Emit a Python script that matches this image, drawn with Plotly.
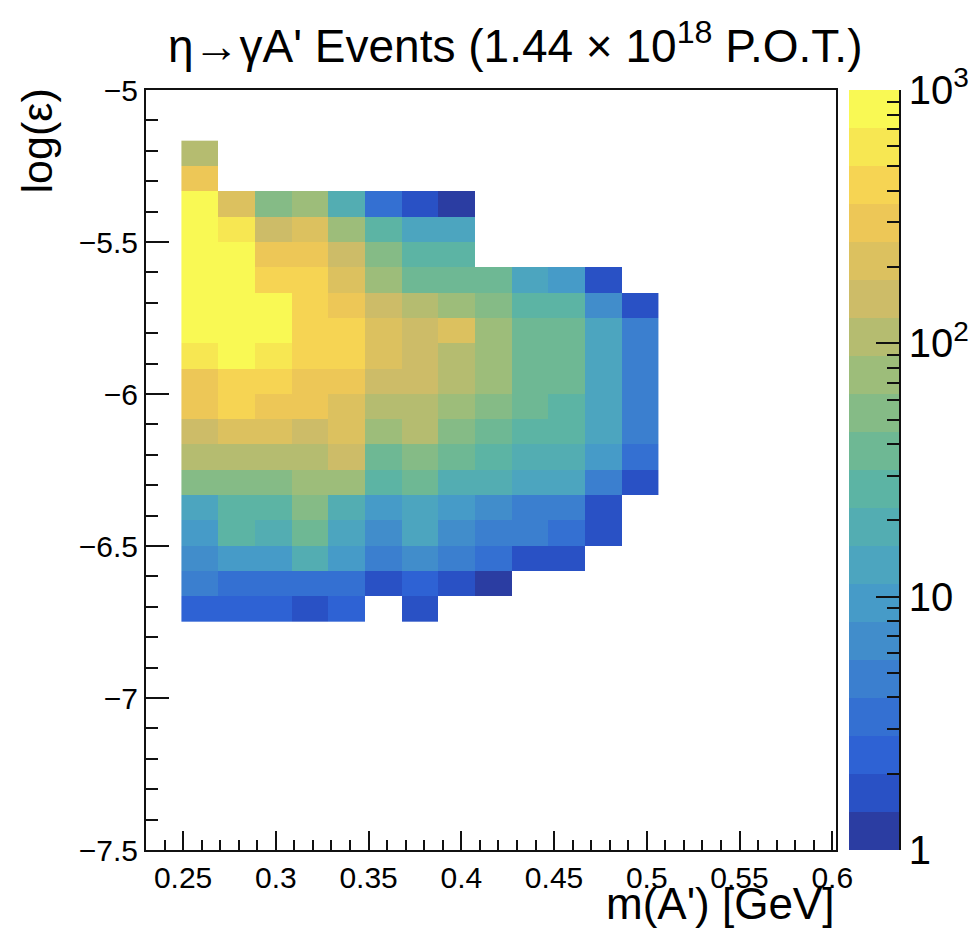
import numpy as np
import plotly.graph_objects as go

# ---------------- data ----------------
# mass bin edges [GeV] (13 bins)
mass_edges = [0.2491, 0.2689, 0.2887, 0.3084, 0.3282, 0.3480, 0.3677, 0.3875,
              0.4073, 0.4270, 0.4468, 0.4666, 0.4863, 0.5061]
# log(epsilon) bin edges (19 bins)
logeps_edges = [-6.75, -6.6667, -6.5833, -6.5, -6.4167, -6.3333, -6.25, -6.1667,
                -6.0833, -6.0, -5.9167, -5.8333, -5.75, -5.6667, -5.5833, -5.5,
                -5.4167, -5.3333, -5.25, -5.1667]

N = None
# events per bin, rows from bottom (log eps = -6.75) to top
events = [
    [2.3, 2.5, 2.2, 1.6, 2.4, N, 1.7, N, N, N, N, N, N],
    [4.6, 3.3, 3.5, 3.2, 3.4, 1.6, 2.5, 1.7, 1.2, N, N, N, N],
    [6.9, 9.1, 8.8, 18, 9.3, 4.9, 6.6, 4.7, 3.6, 1.8, 1.7, N, N],
    [9.4, 27, 19, 37, 13, 6.8, 12.5, 6.5, 4.8, 4.5, 3.5, 1.7, N],
    [13.5, 28, 26, 52, 19, 9.8, 13, 9.2, 7.0, 4.6, 4.4, 1.8, N],
    [54, 55, 50, 72, 78, 28, 39, 21, 20, 14, 13, 4.9, 1.7],
    [104, 108, 101, 110, 160, 37, 56, 40, 29, 20, 18, 9.6, 3.3],
    [145, 205, 215, 152, 220, 77, 112, 54, 41, 27, 26, 13, 4.6],
    [290, 410, 310, 295, 230, 103, 99, 74, 52, 36, 29, 12.5, 4.8],
    [305, 430, 415, 320, 285, 165, 140, 105, 76, 40, 38, 14, 5.1],
    [610, 870, 640, 440, 400, 215, 155, 112, 72, 39, 37, 13.5, 4.7],
    [950, 980, 820, 470, 430, 200, 170, 195, 80, 42, 40, 12, 4.3],
    [990, 960, 760, 390, 330, 148, 118, 84, 58, 30, 28, 6.4, 1.6],
    [970, 900, 370, 380, 190, 70, 43, 41, 35, 12, 10, 1.8, N],
    [930, 780, 270, 260, 135, 48, 30, 31, N, N, N, N, N],
    [890, 560, 138, 185, 66, 25, 14.5, 15, N, N, N, N, N],
    [740, 182, 47, 65, 17, 3.0, 1.9, 1.3, N, N, N, N, N],
    [265, N, N, N, N, N, N, N, N, N, N, N, N],
    [96, N, N, N, N, N, N, N, N, N, N, N, N],
]

x_tickvals = [0.25, 0.3, 0.35, 0.4, 0.45, 0.5, 0.55, 0.6]
x_ticktext = ["0.25", "0.3", "0.35", "0.4", "0.45", "0.5", "0.55", "0.6"]
y_tickvals = [-7.5, -7.0, -6.5, -6.0, -5.5, -5.0]
y_ticktext = ["\u22127.5", "\u22127", "\u22126.5", "\u22126", "\u22125.5", "\u22125"]
z_tickvals = [1, 10, 100, 1000]
z_ticktext = ["1", "10", "10<sup>2</sup>", "10<sup>3</sup>"]
z_minor = [2, 3, 4, 5, 6, 7, 8, 9, 20, 30, 40, 50, 60, 70, 80, 90,
           200, 300, 400, 500, 600, 700, 800, 900]

# ---------------- palette (ROOT kBird, 20 contours) ----------------
stops = [0.0, 0.125, 0.25, 0.375, 0.5, 0.625, 0.75, 0.875, 1.0]
red = [0.2082, 0.0592, 0.0780, 0.0232, 0.1802, 0.5301, 0.8186, 0.9956, 0.9764]
green = [0.1664, 0.3599, 0.5041, 0.6419, 0.7178, 0.7492, 0.7328, 0.7862, 0.9832]
blue = [0.5293, 0.8684, 0.8385, 0.7914, 0.6425, 0.4662, 0.3499, 0.1968, 0.0539]
ncol = 255
pal = []
for g in range(1, len(stops)):
    n = int(np.floor(ncol * stops[g]) - np.floor(ncol * stops[g - 1]))
    for c in range(n):
        pal.append([red[g - 1] + c * (red[g] - red[g - 1]) / n,
                    green[g - 1] + c * (green[g] - green[g - 1]) / n,
                    blue[g - 1] + c * (blue[g] - blue[g - 1]) / n])
pal = np.array(pal)

# reference screenshot is in Display-P3 tone; convert sRGB -> P3 look
def to_p3(rgb):
    rgb = np.asarray(rgb)
    lin = np.where(rgb <= 0.04045, rgb / 12.92, ((rgb + 0.055) / 1.055) ** 2.4)
    M = np.array([[0.8225, 0.1774, 0.0000],
                  [0.0332, 0.9669, 0.0000],
                  [0.0171, 0.0724, 0.9108]])
    l2 = M @ lin
    enc = np.where(l2 <= 0.0031308, 12.92 * l2, 1.055 * np.power(np.clip(l2, 0, None), 1 / 2.4) - 0.055)
    return np.clip(enc, 0, 1)

ndiv = 20
band_cols = []
for i in range(ndiv):
    k = int((i + 0.99) * ncol / ndiv)
    k = min(k, len(pal) - 1)
    r, g_, b = to_p3(pal[k]) * 255
    band_cols.append(f"rgb({int(round(r))},{int(round(g_))},{int(round(b))})")

colorscale = []
for i, c in enumerate(band_cols):
    colorscale.append([i / ndiv, c])
    colorscale.append([(i + 1) / ndiv, c])

zmin_log, zmax_log = 0.0, 3.0
zlog = np.array([[np.nan if v is None else np.log10(v) for v in row] for row in events])

FONT = "Liberation Sans, Arial, Helvetica, sans-serif"

fig = go.Figure()
fig.add_trace(go.Heatmap(
    x=mass_edges, y=logeps_edges, z=zlog,
    colorscale=colorscale, zmin=zmin_log, zmax=zmax_log,
    showscale=False, zsmooth=False, hoverongaps=False,
    xaxis="x", yaxis="y",
))

# colour bar drawn as its own heatmap on a log axis
levels = [10 ** (zmin_log + (zmax_log - zmin_log) * i / ndiv) for i in range(ndiv + 1)]
bar_z = [[zmin_log + (zmax_log - zmin_log) * (i + 0.5) / ndiv] for i in range(ndiv)]
fig.add_trace(go.Heatmap(
    x=[0, 1], y=levels, z=bar_z,
    colorscale=colorscale, zmin=zmin_log, zmax=zmax_log,
    showscale=False, zsmooth=False, hoverinfo="skip",
    xaxis="x2", yaxis="y2",
))

axis_common = dict(
    showline=True, linecolor="#111", linewidth=2, mirror=True,
    ticks="inside", tickcolor="#111", tickwidth=1.5,
    showgrid=False, zeroline=False, automargin=False,
    tickfont=dict(family=FONT, size=30, color="black"),
)

fig.update_layout(
    width=979, height=934,
    margin=dict(l=146, r=80, t=90, b=84),
    paper_bgcolor="white", plot_bgcolor="white",
    showlegend=False,
    xaxis=dict(domain=[0, 0.9163], range=[0.23, 0.602],
               tickmode="array", tickvals=x_tickvals, ticktext=x_ticktext,
               ticklen=19,
               minor=dict(ticks="inside", ticklen=10, tickcolor="#111", tickwidth=1.5,
                          tickmode="linear", tick0=0, dtick=0.01, showgrid=False),
               anchor="y", **axis_common),
    yaxis=dict(domain=[0, 1], range=[-7.5, -5.0],
               tickmode="array", tickvals=y_tickvals, ticktext=y_ticktext,
               ticklen=23,
               minor=dict(ticks="inside", ticklen=12, tickcolor="#111", tickwidth=1.5,
                          tickmode="linear", tick0=0, dtick=0.1, showgrid=False),
               anchor="x", **axis_common),
    xaxis2=dict(domain=[0.9336, 1.0], range=[0, 1], visible=False, anchor="y2"),
    yaxis2=dict(domain=[0, 1], type="log", range=[0, 3], anchor="x2", side="right",
                showline=True, linecolor="#111", linewidth=1.5, automargin=False,
                ticks="inside", ticklen=23, tickcolor="#111", tickwidth=1.5,
                tickmode="array", tickvals=z_tickvals, ticktext=z_ticktext,
                minor=dict(ticks="inside", ticklen=12, tickcolor="#111", tickwidth=1.5,
                           tickmode="array", tickvals=z_minor, showgrid=False),
                showgrid=False, zeroline=False,
                tickfont=dict(family=FONT, size=40, color="black")),
    annotations=[
        dict(text="\u03b7\u2192\u03b3A' Events (1.44 \u00d7 10<sup>18</sup> P.O.T.)",
             xref="paper", yref="paper", x=0.49, y=1.062,
             xanchor="center", yanchor="middle", showarrow=False,
             font=dict(family=FONT, size=46, color="black")),
        dict(text="m(A') [GeV]", xref="paper", yref="paper", x=0.9163, y=0,
             xanchor="right", yanchor="top", yshift=-27, showarrow=False,
             font=dict(family=FONT, size=44, color="black")),
        dict(text="log(\u03b5)", xref="paper", yref="paper", x=-0.1448, y=1,
             xanchor="center", yanchor="top", yshift=4, textangle=-90, showarrow=False,
             font=dict(family=FONT, size=43, color="black")),
    ],
)

fig.write_html("out.html")
